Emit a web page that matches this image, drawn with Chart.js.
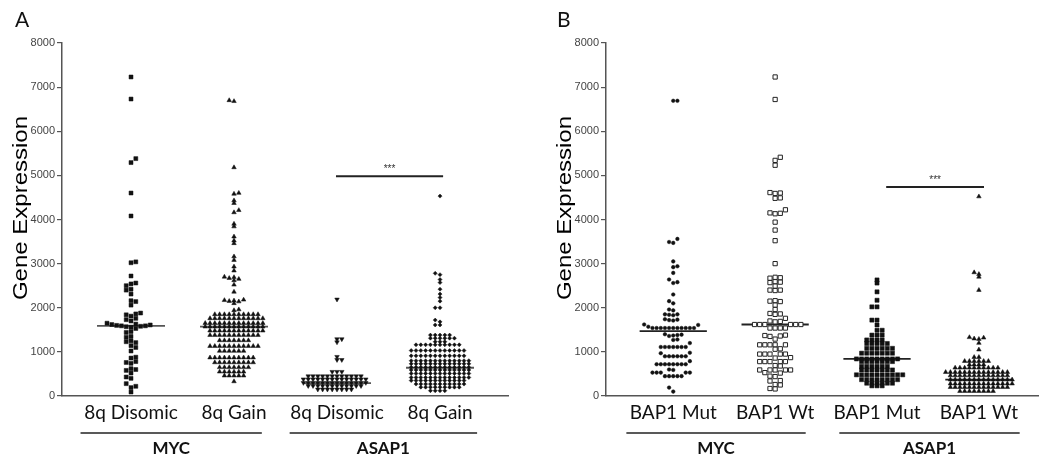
<!DOCTYPE html>
<html lang="en">
<head>
  <meta charset="UTF-8">
  <title>Gene Expression</title>
  <script src="https://cdn.jsdelivr.net/npm/chart.js"></script>
  <style>
    body { margin: 0; background: #fff; overflow: hidden; }
    .wrap { position: relative; width: 1042px; height: 461px; }
    .panel { position: absolute; top: 0; width: 521px; height: 461px; }
  </style>
</head>
<body>
  <div class="wrap">
    <div class="panel" style="left:0"><canvas id="chartA" width="521" height="461"></canvas></div>
    <div class="panel" style="left:521px"><canvas id="chartB" width="521" height="461"></canvas></div>
  </div>

  <script>
    const Y_TITLE = 'Gene Expression';

    // Panel A: MYC / ASAP1 by chromosome 8q status
    const CATS_A = ['8q Disomic', '8q Gain', '8q Disomic', '8q Gain'];
    const GENES_A = ['MYC', 'ASAP1'];
    const A_MYC_DISOMIC = [7230, 6730, 5380, 5290, 4600, 4080, 3040, 3020, 2720, 2560, 2540, 2500, 2420, 2400, 2310,
      2160, 2140, 2060, 1880, 1860, 1840, 1810, 1760, 1730, 1700, 1650, 1630, 1620, 1610, 1600, 1590, 1590, 1580,
      1570, 1560, 1530, 1460, 1440, 1350, 1330, 1250, 1230, 1210, 1140, 1100, 1020, 880, 860, 780, 760, 740, 620,
      600, 580, 520, 430, 400, 280, 220, 190, 90];
    const A_MYC_GAIN = [6700, 6680, 5180, 4600, 4580, 4430, 4370, 4210, 4160, 3900, 3840, 3610, 3520, 3460, 3160,
      3080, 2930, 2840, 2700, 2690, 2670, 2650, 2620, 2520, 2360, 2180, 2170, 2160, 2150, 2140, 2100, 1960, 1940,
      1850, 1850, 1850, 1850, 1850, 1850, 1850, 1850, 1850, 1850,
      1760, 1760, 1760, 1760, 1760, 1760, 1760, 1760, 1760, 1760, 1760, 1760,
      1650, 1650, 1650, 1650, 1650, 1650, 1650, 1650, 1650, 1650, 1650, 1650, 1650,
      1570, 1570, 1570, 1570, 1570, 1570, 1570, 1570, 1570, 1570, 1570, 1570, 1570,
      1480, 1480, 1480, 1480, 1480, 1480, 1480, 1480, 1480, 1480, 1480, 1480,
      1380, 1380, 1380, 1380, 1380, 1380, 1380, 1380, 1380, 1380, 1380,
      1260, 1260, 1260, 1260, 1260, 1260, 1260,
      1130, 1130, 1130, 1130, 1130, 1130, 1130, 1130, 1130, 1130, 1130,
      1020, 1020, 1020, 1020, 1020, 1020,
      870, 870, 870, 870, 870, 870, 870, 870, 870, 870,
      760, 760, 760, 760, 760, 760, 760, 760, 760,
      650, 650, 650, 650, 650, 650, 650,
      550, 550, 550, 550, 550, 550,
      460, 460, 460, 460, 460, 330];
    const A_ASAP1_DISOMIC = [2190, 1290, 1290, 1220, 890, 820, 820, 550, 550, 550,
      450, 450, 450, 450, 450, 450, 450, 450, 450, 450, 450, 450,
      380, 380, 380, 380, 380, 380, 380, 380, 380, 380, 380, 380, 380, 380,
      300, 300, 300, 300, 300, 300, 300, 300, 300, 300, 300, 300, 300, 300,
      230, 230, 230, 230, 230, 230, 230, 230, 230, 230, 230, 230,
      150, 150, 150, 150, 150, 150, 150, 150];
    const A_ASAP1_GAIN = [4530, 2780, 2750, 2640, 2570, 2420, 2310, 2230, 2150, 2000, 2000, 1720, 1680, 1610, 1610,
      1380, 1380, 1380, 1380, 1380, 1310, 1310, 1310, 1310, 1310, 1310, 1230, 1230, 1230,
      1160, 1160, 1160, 1160, 1160, 1160, 1160, 1160, 1160, 1160,
      1030, 1030, 1030, 1030, 1030, 1030, 1030, 1030, 1030, 1030, 1030, 1030,
      910, 910, 910, 910, 910, 910, 910, 910, 910, 910, 910, 910,
      800, 800, 800, 800, 800, 800, 800, 800, 800, 800, 800, 800, 800,
      730, 730, 730, 730, 730, 730, 730, 730, 730, 730, 730, 730, 730,
      650, 650, 650, 650, 650, 650, 650, 650, 650, 650, 650, 650, 650,
      590, 590, 590, 590, 590, 590, 590, 590, 590, 590, 590, 590, 590,
      510, 510, 510, 510, 510, 510, 510, 510, 510, 510, 510, 510, 510,
      420, 420, 420, 420, 420, 420, 420, 420, 420, 420, 420, 420, 420,
      350, 350, 350, 350, 350, 350, 350, 350, 350, 350, 350, 350,
      270, 270, 270, 270, 270, 270, 270, 270, 270, 270, 270,
      200, 200, 200, 200, 200, 200, 200, 200, 200,
      120, 120, 120, 120];
    const MEDIANS_A = [1590, 1570, 290, 640];
    const SIG_A = { from: 1.99, to: 3.03, y: 4980, label: '***' };

    // Panel B: MYC / ASAP1 by BAP1 status
    const CATS_B = ['BAP1 Mut', 'BAP1 Wt', 'BAP1 Mut', 'BAP1 Wt'];
    const GENES_B = ['MYC', 'ASAP1'];
    const B_MYC_MUT = [6690, 6690, 3560, 3490, 3470, 3050, 2940, 2920, 2790, 2640, 2580, 2560, 2300, 2150, 2100,
      1960, 1940, 1850, 1850, 1840, 1830, 1740, 1730, 1720, 1710, 1620, 1610, 1570,
      1540, 1540, 1540, 1540, 1540, 1540, 1540, 1540, 1540, 1540, 1540,
      1400, 1390, 1380, 1370, 1360, 1280, 1270, 1200,
      1110, 1110, 1110, 1110, 1110, 1110, 1110, 980, 970,
      900, 900, 900, 900, 900, 900, 790,
      720, 720, 720, 720, 720, 720, 720, 720, 600, 590,
      530, 530, 530, 530, 530, 450, 450, 450, 450, 450, 190, 100];
    const B_MYC_WT = [7230, 6720, 5410, 5340, 5230, 4610, 4600, 4590, 4490, 4480, 4220, 4150, 4140, 4130, 3940,
      3760, 3520, 3000, 2690, 2680, 2670, 2590, 2580, 2570, 2490, 2400, 2400, 2390, 2160, 2150, 2140, 2060, 1960,
      1870, 1860, 1850, 1760, 1700, 1690, 1680,
      1620, 1620, 1620, 1620, 1620, 1620,
      1540, 1540, 1540, 1540, 1380, 1370, 1360, 1350, 1290,
      1160, 1160, 1160, 1160, 1160, 1070, 1060, 950, 950, 950, 950, 950, 870, 860,
      780, 780, 780, 780, 780, 690, 680, 590, 590, 590, 590, 590, 530, 520, 450, 440, 350, 340, 260, 250, 170, 160];
    const B_ASAP1_MUT = [2630, 2560, 2360, 2170, 2020, 2020, 1720, 1720, 1610, 1490, 1490, 1380, 1380, 1380,
      1270, 1270, 1270, 1270, 1190, 1190, 1190, 1190, 1190,
      1080, 1080, 1080, 1080, 1080, 1080, 970, 970, 970, 970, 970, 970, 970,
      840, 840, 840, 840, 840, 840, 840, 840, 840, 780, 780, 780, 780, 780, 780, 780,
      670, 670, 670, 670, 670, 670, 590, 590, 590, 590, 590, 590, 590,
      480, 480, 480, 480, 480, 480, 480, 480, 480, 480, 370, 370, 370, 370, 370, 370, 370, 370,
      290, 290, 290, 290, 290, 290, 230, 230, 230];
    const B_ASAP1_WT = [4520, 2800, 2760, 2700, 2400, 1330, 1320, 1300, 1290, 1200, 1050, 880, 880,
      790, 790, 790, 790, 790, 790, 710, 710, 710, 710,
      640, 640, 640, 640, 640, 640, 640, 640, 640, 640,
      540, 540, 540, 540, 540, 540, 540, 540, 540, 540, 540, 540, 540, 540,
      465, 465, 465, 465, 465, 465, 465, 465, 465, 465, 465, 465, 465,
      370, 370, 370, 370, 370, 370, 370, 370, 370, 370, 370, 370, 370, 370,
      280, 280, 280, 280, 280, 280, 280, 280, 280, 280, 280, 280, 280, 280,
      200, 200, 200, 200, 200, 200, 200, 200, 200, 200, 200, 200, 200,
      110, 110, 110, 110, 110, 110, 110, 110];
    const MEDIANS_B = [1470, 1620, 840, 370];
    const SIG_B = { from: 2.09, to: 3.05, y: 4735, label: '***' };

    const PX_Y = 353 / 8000;  // approx pixels per expression unit
    const PX_X = 103;         // approx pixels per category step

    // simple beeswarm: spread points sideways when they collide within a row
    function swarm(values, center, dx, h) {
      const order = values.map((v, i) => i).sort((a, b) => values[a] - values[b]);
      const placed = [];
      const out = new Array(values.length);
      let flip = false;
      order.forEach(i => {
        const y = values[i] * PX_Y;
        const near = placed.filter(p => Math.abs(p.y - y) < h);
        const cands = [0];
        near.forEach(p => cands.push(p.x - dx, p.x + dx));
        cands.sort((a, b) => Math.abs(a) - Math.abs(b) || (flip ? a - b : b - a));
        const x = cands.find(c => near.every(p => Math.abs(p.x - c) >= dx - 1e-6));
        flip = !flip;
        placed.push({ x, y });
        out[i] = { x: center + x / PX_X, y: values[i] };
      });
      return out;
    }

    function pointSet(values, idx, style) {
      return Object.assign({
        data: swarm(values, idx, style.dx || 4.8, style.h || 2.4),
        backgroundColor: '#111',
        borderColor: '#111',
        borderWidth: 0.5,
        pointRadius: 2.6,
        pointHoverRadius: 2.6
      }, style.ds);
    }

    function medianSet(med, idx, color) {
      return {
        data: [{ x: idx - 0.33, y: med }, { x: idx + 0.33, y: med }],
        showLine: true, borderColor: color, borderWidth: 1.8, pointRadius: 0
      };
    }

    function sigSet(sig) {
      return {
        data: [{ x: sig.from, y: sig.y }, { x: sig.to, y: sig.y }],
        showLine: true, borderColor: '#222', borderWidth: 2, pointRadius: 0
      };
    }

    // draws panel letter, axis title, gene group underlines and significance stars
    const extras = {
      id: 'extras',
      afterDraw(chart, args, opts) {
        const { ctx } = chart;
        const x = chart.scales.x, y = chart.scales.y;
        ctx.save();
        ctx.fillStyle = '#111';
        ctx.font = '21px Lato';
        ctx.textAlign = 'left';
        ctx.textBaseline = 'middle';
        ctx.fillText(opts.letter, opts.letterX, 20);

        // y title, stretched along its length like the original
        ctx.save();
        ctx.translate(opts.titleX, 208);
        ctx.rotate(-Math.PI / 2);
        ctx.scale(1.2, 1);
        ctx.font = '20px "Liberation Sans"';
        ctx.fillStyle = '#000';
        ctx.textAlign = 'center';
        ctx.textBaseline = 'alphabetic';
        ctx.fillText(Y_TITLE, 0, 0);
        ctx.restore();

        opts.groups.forEach(g => {
          const x0 = x.getPixelForValue(g.from), x1 = x.getPixelForValue(g.to);
          ctx.strokeStyle = '#222';
          ctx.lineWidth = 1.5;
          ctx.beginPath();
          ctx.moveTo(x0, 433);
          ctx.lineTo(x1, 433);
          ctx.stroke();
          ctx.font = 'bold 17px Lato';
          ctx.textAlign = 'center';
          ctx.fillText(g.name, (x0 + x1) / 2, 449);
        });

        const sx = x.getPixelForValue((opts.sig.from + opts.sig.to) / 2);
        const sy = y.getPixelForValue(opts.sig.y);
        ctx.font = '10px "Liberation Sans"';
        ctx.textAlign = 'center';
        ctx.fillStyle = '#333';
        ctx.fillText(opts.sig.label, sx, sy - 7);
        ctx.restore();
      }
    };

    function makeChart(id, cats, datasets, xRange, padLeft, padRight, extraOpts) {
      return new Chart(document.getElementById(id), {
        type: 'scatter',
        data: { datasets },
        plugins: [extras],
        options: {
          responsive: false,
          animation: false,
          layout: { padding: { top: 43, right: padRight, left: padLeft, bottom: 0 } },
          plugins: {
            legend: { display: false },
            tooltip: { enabled: false },
            extras: extraOpts
          },
          scales: {
            x: {
              type: 'linear',
              min: xRange[0],
              max: xRange[1],
              afterBuildTicks: s => { s.ticks = [0, 1, 2, 3].map(v => ({ value: v })); },
              afterFit: s => { s.height = 65; },
              ticks: {
                callback: v => cats[v],
                font: { family: 'Lato', size: 19 },
                color: '#111',
                padding: -3,
                maxRotation: 0,
                autoSkip: false
              },
              grid: { display: false },
              border: { display: true, color: '#555', width: 1.5 }
            },
            y: {
              min: 0,
              max: 8000,
              afterFit: s => { s.width = 62; },
              ticks: {
                stepSize: 1000,
                callback: v => String(v),
                font: { family: 'Liberation Sans', size: 11 },
                color: '#444',
                padding: 2
              },
              grid: { drawOnChartArea: false, tickLength: 5, color: '#555', lineWidth: 1.2 },
              border: { color: '#555', width: 1.5 }
            }
          }
        }
      });
    }

    const filled = (shape, r, extra, swarmOpts) => Object.assign({ ds: Object.assign({ pointStyle: shape, pointRadius: r, pointHoverRadius: r }, extra || {}) }, swarmOpts || {});

    const datasetsA = [
      pointSet(A_MYC_DISOMIC, 0, filled('rect', 2.8, null, { h: 4 })),
      pointSet(A_MYC_GAIN, 1, filled('triangle', 2.6)),
      pointSet(A_ASAP1_DISOMIC, 2, filled('triangle', 2.6, { rotation: 180 })),
      pointSet(A_ASAP1_GAIN, 3, filled('rectRot', 2.0)),
      ...MEDIANS_A.map((m, i) => medianSet(m, i, '#555')),
      sigSet(SIG_A)
    ];

    const datasetsB = [
      pointSet(B_MYC_MUT, 0, filled('circle', 1.8, null, { h: 4, dx: 4.2 })),
      pointSet(B_MYC_WT, 1, { dx: 5.2, h: 4, ds: { pointStyle: 'rect', pointRadius: 3.0, pointHoverRadius: 3.0, backgroundColor: '#fff', borderColor: '#222', borderWidth: 1 } }),
      pointSet(B_ASAP1_MUT, 2, filled('rect', 2.9, null, { dx: 5.2 })),
      pointSet(B_ASAP1_WT, 3, filled('triangle', 2.6)),
      ...MEDIANS_B.map((m, i) => medianSet(m, i, '#222')),
      sigSet(SIG_B)
    ];

    makeChart('chartA', CATS_A, datasetsA, [-0.67, 3.66], 0, 13, {
      letter: 'A', letterX: 15, titleX: 27, sig: SIG_A,
      groups: [{ name: GENES_A[0], from: -0.49, to: 1.27 }, { name: GENES_A[1], from: 1.54, to: 3.36 }]
    });

    makeChart('chartB', CATS_B, datasetsB, [-0.66, 3.58], 23, 0, {
      letter: 'B', letterX: 36, titleX: 50, sig: SIG_B,
      groups: [{ name: GENES_B[0], from: -0.46, to: 1.30 }, { name: GENES_B[1], from: 1.63, to: 3.40 }]
    });
  </script>
</body>
</html>
